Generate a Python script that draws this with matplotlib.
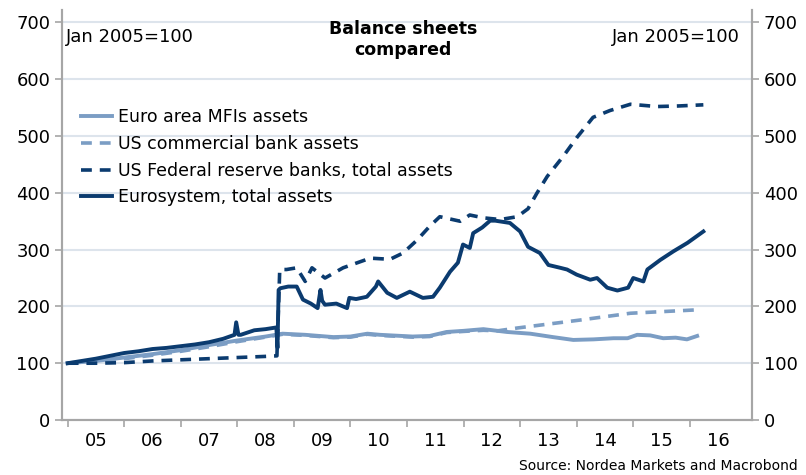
import matplotlib
matplotlib.use("Agg")
import matplotlib.pyplot as plt
import numpy as np

# data (decimal year, index Jan 2005=100)
eurosys_t = [2005.0, 2005.25, 2005.5, 2005.75, 2006.0, 2006.25, 2006.5, 2006.75,
             2007.0, 2007.25, 2007.5, 2007.75, 2007.95, 2007.98, 2008.02, 2008.06,
             2008.3, 2008.5, 2008.69, 2008.71, 2008.73, 2008.76, 2008.9, 2009.05,
             2009.16, 2009.3, 2009.42, 2009.47, 2009.5, 2009.55, 2009.75, 2009.94,
             2009.98, 2010.1, 2010.29, 2010.45, 2010.49, 2010.65, 2010.82, 2011.05,
             2011.28, 2011.46, 2011.58, 2011.76, 2011.9, 2011.99, 2012.11, 2012.17,
             2012.33, 2012.47, 2012.56, 2012.82, 2013.0, 2013.14, 2013.35, 2013.5,
             2013.71, 2013.83, 2014.0, 2014.24, 2014.36, 2014.54, 2014.72, 2014.91,
             2015.0, 2015.18, 2015.25, 2015.48, 2015.71, 2015.96, 2016.24]
eurosys_v = [100, 104, 108, 113, 118, 121, 125, 127,
             130, 133, 137, 143, 150, 172, 150, 150,
             158, 160, 163, 127, 229, 232, 235, 235,
             212, 205, 197, 229, 210, 203, 205, 197,
             215, 213, 217, 235, 244, 224, 215, 226,
             215, 217, 233, 261, 277, 309, 303, 329,
             339, 351, 351, 347, 332, 305, 294, 273,
             268, 265, 256, 247, 250, 233, 228, 233,
             250, 244, 265, 282, 297, 312, 332]

fed_t = [2005.0, 2005.5, 2006.0, 2006.5, 2007.0, 2007.5, 2008.0, 2008.5,
         2008.7, 2008.75, 2008.87, 2009.05, 2009.2, 2009.32, 2009.55, 2009.87,
         2010.35, 2010.7, 2010.93, 2011.18, 2011.4, 2011.58, 2011.94, 2012.11,
         2012.35, 2012.65, 2012.95, 2013.14, 2013.3, 2013.48, 2013.76, 2014.0,
         2014.29, 2014.59, 2014.95, 2015.42, 2015.8, 2016.24]
fed_v = [100, 100, 101, 104, 106, 108, 110, 112,
         113, 265, 265, 268, 244, 268, 250, 268,
         285, 283, 294, 317, 341, 358, 350, 361,
         356, 353, 358, 372, 400, 429, 464, 497,
         533, 545, 556, 552, 553, 555]

mfi_t = [2005.0, 2005.5, 2006.0, 2006.5, 2007.0, 2007.5, 2008.0, 2008.5,
         2008.8, 2009.2, 2009.7, 2010.0, 2010.3, 2010.52, 2011.1, 2011.4,
         2011.7, 2012.0, 2012.35, 2012.77, 2013.18, 2013.58, 2013.94, 2014.3,
         2014.65, 2014.9, 2015.07, 2015.3, 2015.53, 2015.75, 2015.95, 2016.13]
mfi_v = [100, 104, 110, 116, 123, 132, 140, 147,
         152, 150, 146, 147, 152, 150, 147, 148,
         155, 157, 160, 155, 152, 146, 141, 142,
         144, 144, 150, 149, 144, 145, 142, 148]

uscb_t = [2005.0, 2005.5, 2006.0, 2006.5, 2007.0, 2007.5, 2008.0, 2008.5,
          2008.8, 2009.2, 2009.7, 2010.0, 2010.3, 2010.52, 2011.1, 2011.4,
          2011.7, 2012.0, 2012.35, 2012.6, 2012.95, 2014.06, 2014.95, 2016.13]
uscb_v = [100, 103, 108, 114, 121, 129, 138, 146,
          151, 149, 145, 146, 151, 149, 146, 147,
          154, 156, 158, 157, 162, 176, 188, 194]

years = np.arange(2005, 2017)
year_labels = ["%02d" % (y % 100) for y in years]

dark = "#0b3b6f"
light = "#7b9dc4"
grey = "#a6a6a6"

fig = plt.figure(figsize=(8.06, 4.75), dpi=100)
ax = fig.add_axes([62 / 806, 1 - 420 / 475, 690 / 806, 410 / 475])

ax.plot(uscb_t, uscb_v, color=light, lw=2.6, dashes=(3, 2.2), zorder=2,
        label="US commercial bank assets")
ax.plot(mfi_t, mfi_v, color=light, lw=2.8, zorder=3, label="Euro area MFIs assets")
ax.plot(fed_t, fed_v, color=dark, lw=2.6, dashes=(3, 2.2), zorder=4,
        label="US Federal reserve banks, total assets")
ax.plot(eurosys_t, eurosys_v, color=dark, lw=2.8, zorder=5, label="Eurosystem, total assets")

ax.set_xlim(2004.9, 2017.1)
ax.set_ylim(0, 722)
ax.set_yticks(range(0, 701, 100))
ax.grid(axis="y", color="#dde4ec", lw=1.5)
ax.set_axisbelow(True)

ax.set_xticks(years, [])
ax.set_xticks(years + 0.5, year_labels, minor=True)
ax.tick_params(axis="x", which="major", length=5, color=grey, width=1.2)
ax.tick_params(axis="x", which="minor", length=0, labelsize=13, pad=9)
ax.tick_params(axis="y", length=5, color=grey, width=1.2, labelsize=13)

ax2 = ax.twinx()
ax2.set_ylim(ax.get_ylim())
ax2.set_yticks(range(0, 701, 100))
ax2.tick_params(axis="y", length=5, color=grey, width=1.2, labelsize=13)

for a in (ax, ax2):
    a.spines["top"].set_visible(False)
    for s in ("left", "right", "bottom"):
        a.spines[s].set_color(grey)
        a.spines[s].set_linewidth(1.5)

h, l = ax.get_legend_handles_labels()
order = [1, 0, 2, 3]
ax.legend([h[i] for i in order], [l[i] for i in order], loc="upper left",
          bbox_to_anchor=(0.01, 0.79), frameon=False, fontsize=12.5,
          handlelength=1.8, handletextpad=0.3, labelspacing=0.5, borderaxespad=0.3)

ax.text(0.006, 0.955, "Jan 2005=100", transform=ax.transAxes, fontsize=13, va="top", ha="left")
ax.text(0.982, 0.955, "Jan 2005=100", transform=ax.transAxes, fontsize=13, va="top", ha="right")
fig.text(0.5, 0.958, "Balance sheets\ncompared", ha="center", va="top",
         fontsize=12.5, fontweight="bold", linespacing=1.25)
fig.text(0.99, 0.005, "Source: Nordea Markets and Macrobond", ha="right", va="bottom",
         fontsize=10)

fig.savefig("out.png", dpi=100)
